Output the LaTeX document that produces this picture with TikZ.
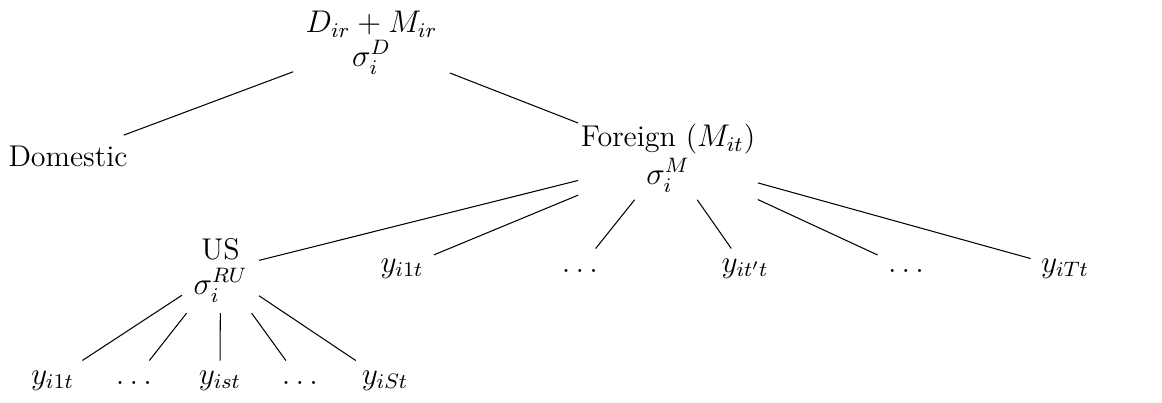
\documentclass[tikz,border=0pt,12pt]{standalone}
\usepackage[no-math]{fontspec}
\newcommand\lbltext[1]{{\fontsize{11.5}{14}\selectfont #1}}
\begin{document}
\begin{tikzpicture}[x=0.383pt, y=-0.383pt,
  treenode/.style={align=center, outer sep=0pt, inner xsep=1pt, inner ysep=1pt},
  plainnode/.style={outer sep=0pt},
  leaf/.style={anchor=base, outer sep=0pt, text height=5pt, text depth=2pt},
  branch/.style={line width=0.4pt}]
\useasboundingbox (0,0) rectangle (1162,402);
% inner nodes
\node[treenode, minimum width=60pt, minimum height=30pt] (top) at (371.5,42.5)
  {$D_{ir}+M_{ir}$\\[-1.5pt]$\sigma_i^D$};
\node[plainnode] (dom) at (68,156) {\lbltext{Domestic}};
\node[treenode, minimum width=68pt, minimum height=32pt] (for) at (668,158)
  {\lbltext{Foreign (}$M_{it}$\lbltext{)}\\$\sigma_i^M$};
\node[treenode, minimum width=29.5pt, minimum height=33pt] (us) at (220.5,270)
  {\lbltext{US}\\[-1pt]$\sigma_i^{RU}$};
% leaves of Foreign
\node[leaf] (l1) at (402,272) {$y_{i1t}$};
\node[leaf] (d1) at (580,272) {$\ldots$};
\node[leaf] (lp) at (745,272) {$y_{it't}$};
\node[leaf] (d2) at (906,272) {$\ldots$};
\node[leaf] (lT) at (1065,272) {$y_{iTt}$};
% leaves of US
\node[leaf] (b1) at (52.5,384) {$y_{i1t}$};
\node[leaf] (b2) at (134,384) {$\ldots$};
\node[leaf] (b3) at (220,384) {$y_{ist}$};
\node[leaf] (b4) at (300,384) {$\ldots$};
\node[leaf] (b5) at (385,384) {$y_{iSt}$};
% connectors
\draw[branch] (top) -- (dom);
\draw[branch] (top) -- (for);
\foreach \c in {us,l1,d1,lp,d2,lT} \draw[branch] (for) -- (\c);
\foreach \c in {b1,b2,b3,b4,b5} \draw[branch] (us) -- (\c);
\end{tikzpicture}
\end{document}
